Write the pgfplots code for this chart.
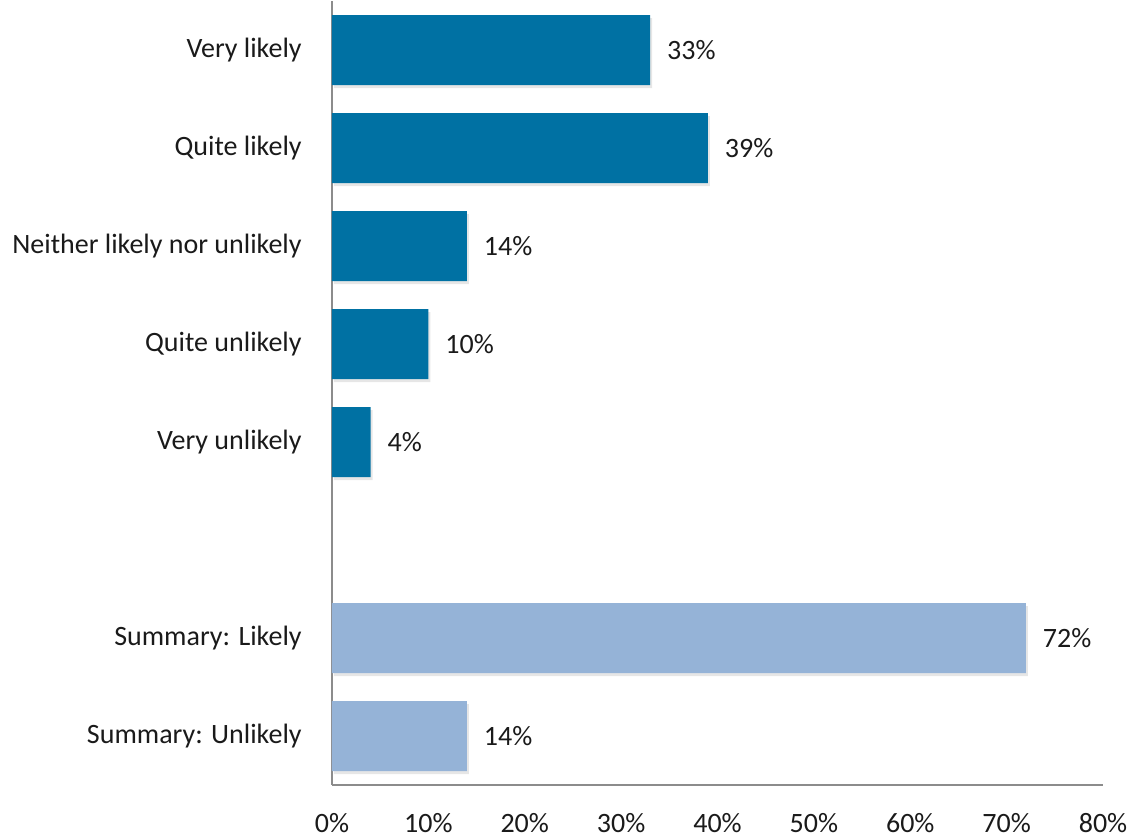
\documentclass[border=0pt]{standalone}
\usepackage{fontspec}
\setmainfont{Carlito}
\usepackage{pgfplots}
\pgfplotsset{compat=1.18}
\usetikzlibrary{shadows,calc}
\definecolor{darkbar}{HTML}{0071A3}
\definecolor{lightbar}{HTML}{95B3D7}
\definecolor{axisgray}{HTML}{8C8C8C}
\definecolor{txt}{HTML}{1A1A1A}
\begin{document}
\begin{tikzpicture}
\begin{axis}[
  name=ax,
  scale only axis,
  width=385.5pt, height=392pt,
  xmin=0, xmax=80,
  ymin=-0.5, ymax=7.5,
  y dir=reverse,
  axis x line*=bottom, axis y line*=left,
  axis line style={axisgray, line width=0.6pt, -},
  xtick={0,10,...,80},
  xticklabels={0\%,10\%,20\%,30\%,40\%,50\%,60\%,70\%,80\%},
  ytick={0,1,2,3,4,6,7},
  yticklabels={Very likely,Quite likely,Neither likely nor unlikely,Quite unlikely,Very unlikely,Summary: Likely,Summary: Unlikely},
  major tick length=0pt,
  tick label style={font=\fontsize{14}{16}\selectfont, text=txt},
  yticklabel style={inner sep=0pt, xshift=-15pt},
  xticklabel style={inner sep=0pt, yshift=-14pt},
  /pgf/number format/assume math mode=true,
  xbar, bar width=35pt, bar shift=0pt,
  nodes near coords={\pgfmathprintnumber{\pgfplotspointmeta}\%},
  every node near coord/.append style={font=\fontsize{14}{16}\selectfont, text=txt, anchor=west, xshift=5pt},
  clip=false,
]
\addplot[draw=none, fill=darkbar, drop shadow={shadow xshift=1pt, shadow yshift=-1.5pt, opacity=0.2}]
  coordinates {(33,0) (39,1) (14,2) (10,3) (4,4)};
\addplot[draw=none, fill=lightbar, drop shadow={shadow xshift=1pt, shadow yshift=-1.5pt, opacity=0.2}]
  coordinates {(72,6) (14,7)};
\end{axis}
\path[draw=none] ($(ax.south west)+(-166pt,-26.5pt)$) rectangle ($(ax.north east)+(17pt,0.5pt)$);
\end{tikzpicture}
\end{document}
